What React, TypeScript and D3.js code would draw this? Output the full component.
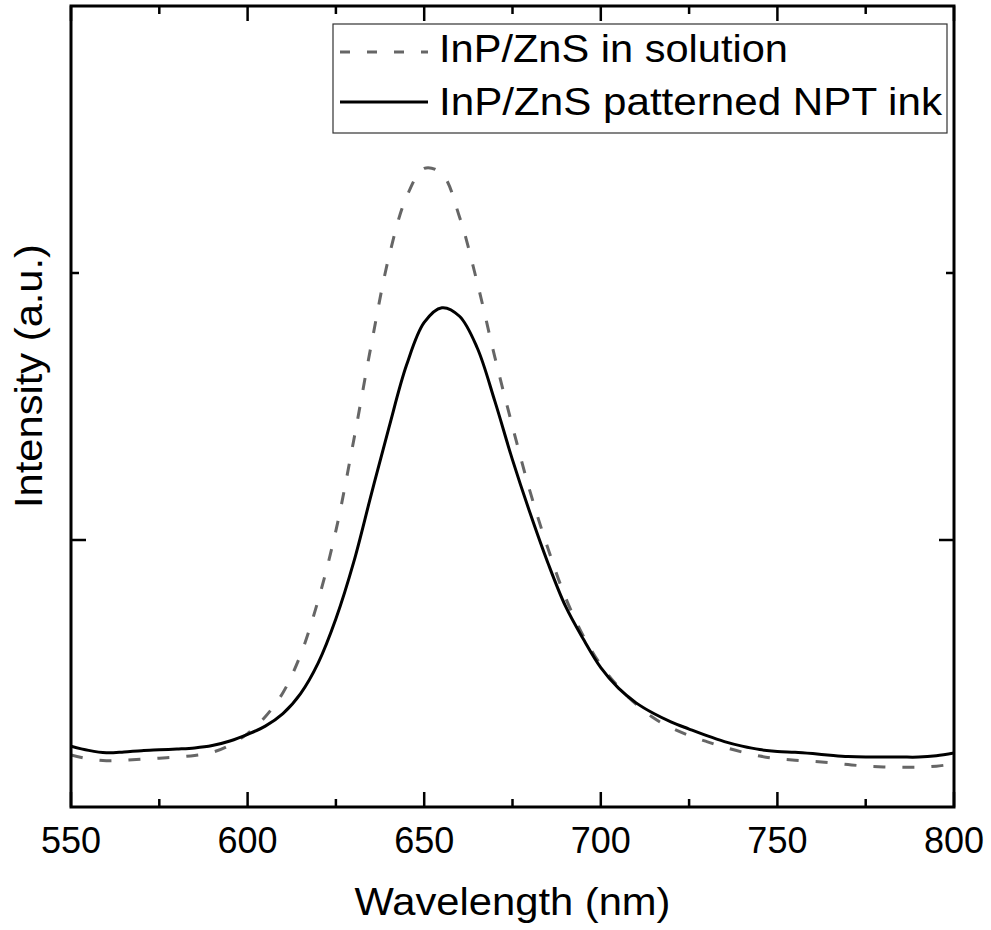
import React from "react";
import * as d3 from "d3";

const wavelengths = [550,555,560,565,570,575,580,585,590,595,600,605,610,615,620,625,630,635,640,645,650,655,660,665,670,675,680,685,690,695,700,705,710,715,720,725,730,735,740,745,750,755,760,765,770,775,780,785,790,795,800];

const solutionValues = [0.195,0.180,0.173,0.175,0.179,0.183,0.187,0.193,0.205,0.232,0.275,0.338,0.428,0.570,0.775,1.035,1.370,1.730,2.060,2.285,2.392,2.372,2.210,1.965,1.685,1.425,1.180,0.970,0.785,0.642,0.532,0.450,0.385,0.333,0.296,0.268,0.245,0.224,0.206,0.191,0.181,0.175,0.171,0.166,0.159,0.153,0.150,0.149,0.149,0.153,0.161];

const inkValues = [0.228,0.212,0.203,0.206,0.211,0.214,0.217,0.221,0.230,0.247,0.272,0.303,0.350,0.425,0.540,0.705,0.915,1.170,1.420,1.655,1.815,1.870,1.838,1.720,1.520,1.300,1.100,0.915,0.752,0.630,0.522,0.445,0.390,0.350,0.318,0.292,0.267,0.245,0.228,0.215,0.208,0.205,0.200,0.194,0.189,0.187,0.187,0.187,0.187,0.192,0.202];

const xMajorTicks = [550,600,650,700,750,800];
const xMinorTicks = [575,625,675,725,775];
const yMajorTicks = [1];
const yMinorTicks = [2];

const seriesNames = ["InP/ZnS in solution", "InP/ZnS patterned NPT ink"];

const FONT = "'Liberation Sans', Arial, Helvetica, sans-serif";

export default function App() {
  const left = 71, right = 954, top = 6, bottom = 807;
  const x = d3.scaleLinear().domain([550, 800]).range([left, right]);
  const y = d3.scaleLinear().domain([0, 3]).range([bottom, top]);

  const line = d3
    .line<number>()
    .x((_, i) => x(wavelengths[i]))
    .y((d) => y(d))
    .curve(d3.curveCatmullRom.alpha(0.5));

  const majorLen = 15, minorLen = 8;

  return (
    <svg
      width={991}
      height={930}
      style={{ position: "absolute", left: 0, top: 0, background: "#fff" }}
      fontFamily={FONT}
    >
      <defs>
        <clipPath id="plotclip">
          <rect x={left} y={top} width={right - left} height={bottom - top} />
        </clipPath>
      </defs>

      <g clipPath="url(#plotclip)">
        <path d={line(solutionValues) || ""} fill="none" stroke="#666666" strokeWidth={3} strokeDasharray="12,17" />
        <path d={line(inkValues) || ""} fill="none" stroke="#000" strokeWidth={3} />
      </g>

      {xMajorTicks.map((t) => (
        <g key={"xM" + t}>
          <line x1={x(t)} x2={x(t)} y1={bottom} y2={bottom - majorLen} stroke="#000" strokeWidth={2.5} />
          <line x1={x(t)} x2={x(t)} y1={top} y2={top + majorLen} stroke="#000" strokeWidth={2.5} />
          <text x={x(t)} y={853} textAnchor="middle" fontSize={36} fill="#000">{t}</text>
        </g>
      ))}
      {xMinorTicks.map((t) => (
        <g key={"xm" + t}>
          <line x1={x(t)} x2={x(t)} y1={bottom} y2={bottom - minorLen} stroke="#000" strokeWidth={2.5} />
          <line x1={x(t)} x2={x(t)} y1={top} y2={top + minorLen} stroke="#000" strokeWidth={2.5} />
        </g>
      ))}
      {yMajorTicks.map((t) => (
        <g key={"yM" + t}>
          <line x1={left} x2={left + majorLen} y1={y(t)} y2={y(t)} stroke="#000" strokeWidth={2.5} />
          <line x1={right} x2={right - majorLen} y1={y(t)} y2={y(t)} stroke="#000" strokeWidth={2.5} />
        </g>
      ))}
      {yMinorTicks.map((t) => (
        <g key={"ym" + t}>
          <line x1={left} x2={left + minorLen} y1={y(t)} y2={y(t)} stroke="#000" strokeWidth={2.5} />
          <line x1={right} x2={right - minorLen} y1={y(t)} y2={y(t)} stroke="#000" strokeWidth={2.5} />
        </g>
      ))}

      <rect x={left} y={top} width={right - left} height={bottom - top} fill="none" stroke="#000" strokeWidth={3} />

      <text x={(left + right) / 2} y={915} textAnchor="middle" fontSize={38} fill="#000" textLength={316} lengthAdjust="spacingAndGlyphs">Wavelength (nm)</text>
      <text transform="translate(42,376) rotate(-90)" textAnchor="middle" fontSize={38} fill="#000" textLength={264} lengthAdjust="spacingAndGlyphs">Intensity (a.u.)</text>

      <rect x={333} y={24} width={614} height={109} fill="#fff" stroke="#333" strokeWidth={1.2} />
      <line x1={340} x2={428} y1={52} y2={52} stroke="#666666" strokeWidth={3} strokeDasharray="10,17" />
      <text x={439} y={62} fontSize={38} fill="#000" textLength={349} lengthAdjust="spacingAndGlyphs">{seriesNames[0]}</text>
      <line x1={340} x2={428} y1={102} y2={102} stroke="#000" strokeWidth={3} />
      <text x={439} y={115} fontSize={38} fill="#000" textLength={503} lengthAdjust="spacingAndGlyphs">{seriesNames[1]}</text>
    </svg>
  );
}
